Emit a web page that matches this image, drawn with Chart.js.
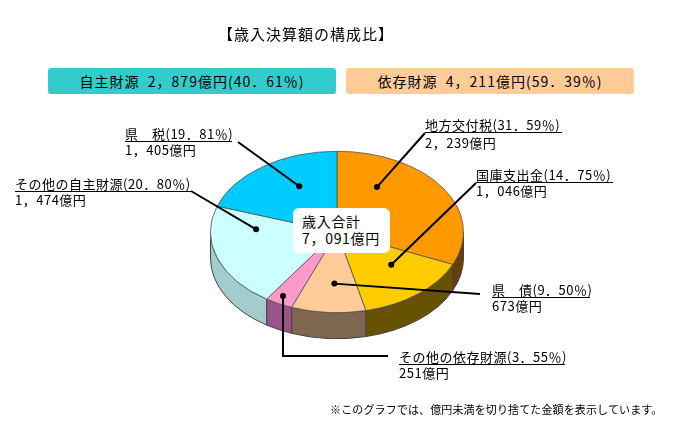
<!DOCTYPE html>
<html lang="ja">
<head>
<meta charset="utf-8">
<title>歳入決算額の構成比</title>
<script src="https://cdn.jsdelivr.net/npm/chart.js@4"></script>
<style>
  html, body { margin: 0; padding: 0; background: #fff; }
  body { width: 674px; height: 429px; position: relative; overflow: hidden;
         font-family: "Noto Sans CJK JP", sans-serif; color: #000; }
  canvas { position: absolute; left: 0; top: 0; }
  .text { position: absolute; white-space: nowrap; font-size: 13px; line-height: 18px; letter-spacing: 0.5px; }
  .box { position: absolute; top: 68px; width: 288px; height: 26px; line-height: 26px;
         border-radius: 3px; text-align: center; font-size: 14px; letter-spacing: 1px; white-space: nowrap; }
  .name { display: block; height: 15px; line-height: 15px; border-bottom: 1px solid #000; }
  .amount { display: block; }
  #total { position: absolute; left: 293px; top: 208px; width: 88px; height: 40px; padding: 5px 0 0 9px;
           background: #fff; border-radius: 6px; font-size: 14px; line-height: 17px; letter-spacing: 0.7px;
           white-space: nowrap; }
</style>
</head>
<body>
<canvas id="pie" width="674" height="429"></canvas>
<div class="text" style="left:218px;top:24px;font-size:15px;line-height:20px;letter-spacing:1px">【歳入決算額の構成比】</div>
<div class="box" style="left:48px;background:#33cccc">自主財源&nbsp;&nbsp;2，879億円(40．61％)</div>
<div class="box" style="left:346px;background:#ffcc99">依存財源&nbsp;&nbsp;4，211億円(59．39％)</div>
<div id="labels"></div>
<div id="total">歳入合計<br>7，091億円</div>
<div class="text" style="left:330px;top:400px;font-size:11px;letter-spacing:0.13px">※このグラフでは、億円未満を切り捨てた金額を表示しています。</div>

<script>
const categories = ['地方交付税', '国庫支出金', '県　債', 'その他の依存財源', 'その他の自主財源', '県　税'];
const percents = [31.59, 14.75, 9.50, 3.55, 20.80, 19.81];
const percentLabels = ['31．59', '14．75', '9．50', '3．55', '20．80', '19．81'];
const amountLabels = ['2，239', '1，046', '673', '251', '1，474', '1，405'];

const topColors = ['#ff9900', '#ffcc00', '#ffcc99', '#ff99cc', '#ccffff', '#00ccff'];
const sideColors = ['#664000', '#665200', '#7f6650', '#99558a', '#a3cccc', '#006680'];

// label boxes: left, top, width, line height of the amount row
const labelBoxes = [
  [425, 117, 137, 19], [476, 167, 137, 15], [492, 282, 98, 15],
  [399, 349, 166, 15], [15, 176, 176, 15], [125, 126, 107, 15]
];
// leader dot inside its slice: fraction along the slice, fraction of the radius
const leaderSpots = [[0.26, 0.64], [0.37, 0.59], [0.44, 0.64], [0.57, 0.90], [0.79, 0.64], [0.61, 0.64]];
// where each leader leaves the label (last one may have a bend)
const leaderEnds = [
  [[425, 133]], [[476, 183]], [[480, 294]],
  [[388, 356], [283, 356]], [[191, 191]], [[238, 142]]
];

const squash = 0.638;   // tilt of the pie
const depth = 26;       // height of the side wall

const labelsEl = document.getElementById('labels');
categories.forEach((name, i) => {
  const el = document.createElement('div');
  el.className = 'text';
  el.style.left = labelBoxes[i][0] + 'px';
  el.style.top = labelBoxes[i][1] + 'px';
  el.style.width = labelBoxes[i][2] + 'px';
  el.innerHTML = `<span class="name">${name}(${percentLabels[i]}％)</span>` +
    `<span class="amount" style="line-height:${labelBoxes[i][3]}px">${amountLabels[i]}億円</span>`;
  labelsEl.appendChild(el);
});

// Squash the flat pie and draw the wall under it
const tiltPlugin = {
  id: 'tilt',
  beforeDatasetsDraw(chart) {
    const ctx = chart.ctx;
    const arcs = chart.getDatasetMeta(0).data;
    const cx = arcs[0].x, cy = arcs[0].y, r = arcs[0].outerRadius;
    arcs.forEach((arc, i) => {
      const a0 = Math.max(arc.startAngle, 0);
      const a1 = Math.min(arc.endAngle, Math.PI);
      if (a1 <= a0) return;
      ctx.beginPath();
      ctx.ellipse(cx, cy, r, r * squash, 0, a0, a1);
      ctx.ellipse(cx, cy + depth, r, r * squash, 0, a1, a0, true);
      ctx.closePath();
      ctx.fillStyle = sideColors[i];
      ctx.strokeStyle = '#444';
      ctx.lineWidth = 1;
      ctx.fill();
      ctx.stroke();
    });
    ctx.save();
    ctx.translate(cx, cy);
    ctx.scale(1, squash);
    ctx.translate(-cx, -cy);
  },
  afterDatasetsDraw(chart) {
    const ctx = chart.ctx;
    ctx.restore();
    const arcs = chart.getDatasetMeta(0).data;
    arcs.forEach((arc, i) => {
      const a = arc.startAngle + (arc.endAngle - arc.startAngle) * leaderSpots[i][0];
      const px = arc.x + Math.cos(a) * arc.outerRadius * leaderSpots[i][1];
      const py = arc.y + Math.sin(a) * arc.outerRadius * leaderSpots[i][1] * squash;
      ctx.beginPath();
      ctx.moveTo(px, py);
      for (let j = leaderEnds[i].length - 1; j >= 0; j--) {
        ctx.lineTo(leaderEnds[i][j][0], leaderEnds[i][j][1]);
      }
      ctx.strokeStyle = '#000';
      ctx.lineWidth = 2;
      ctx.stroke();
      ctx.beginPath();
      ctx.arc(px, py, 3, 0, Math.PI * 2);
      ctx.fillStyle = '#000';
      ctx.fill();
    });
  }
};

new Chart(document.getElementById('pie'), {
  type: 'pie',
  data: {
    labels: categories,
    datasets: [{
      data: percents,
      backgroundColor: topColors,
      borderColor: '#555',
      borderWidth: 1
    }]
  },
  options: {
    responsive: false,
    animation: false,
    layout: { padding: { left: 210, right: 210, top: 105, bottom: 70 } },
    plugins: { legend: { display: false }, tooltip: { enabled: false } }
  },
  plugins: [tiltPlugin]
});
</script>
</body>
</html>
